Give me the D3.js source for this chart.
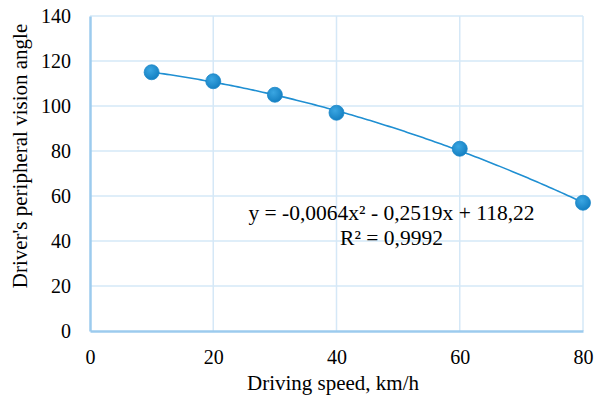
<!DOCTYPE html>
<html><head><meta charset="utf-8">
<script src="https://cdn.jsdelivr.net/npm/d3@7"></script>
<style>body{margin:0;background:#fff}svg{display:block}text{font-family:"Liberation Serif","Times New Roman",serif;fill:#000}</style>
</head><body><svg id="c" width="603" height="399"></svg>
<script>
const speeds = [10, 20, 30, 40, 60, 80];
const angles = [115, 111, 105, 97, 81, 57];
const xTicks = [0, 20, 40, 60, 80];
const yTicks = [0, 20, 40, 60, 80, 100, 120, 140];
const trendCoef = [-0.0064, -0.2519, 118.22]; // a, b, c from the displayed equation
const eqLines = ["y = -0,0064x² - 0,2519x + 118,22", "R² = 0,9992"];

const svg = d3.select("#c");
const m = {l: 90, r: 583, t: 16, b: 331};
const x = d3.scaleLinear().domain([0, 80]).range([m.l, m.r]);
const y = d3.scaleLinear().domain([0, 140]).range([m.b, m.t]);
const serif = '"Liberation Serif","Times New Roman",serif';

const defs = svg.append("defs");
const g = defs.append("radialGradient").attr("id","mk").attr("cx","40%").attr("cy","35%").attr("r","65%");
g.append("stop").attr("offset","0%").attr("stop-color","#3aa6e2");
g.append("stop").attr("offset","100%").attr("stop-color","#1580c2");

// grid
svg.append("g").selectAll("line").data(yTicks.filter(d=>d>0)).join("line")
  .attr("x1", m.l).attr("x2", m.r).attr("y1", d=>y(d)).attr("y2", d=>y(d))
  .attr("stroke", "#d5e8f7").attr("stroke-width", 1.5);
svg.append("g").selectAll("line").data(xTicks.filter(d=>d>0)).join("line")
  .attr("y1", m.t).attr("y2", m.b).attr("x1", d=>x(d)).attr("x2", d=>x(d))
  .attr("stroke", "#d5e8f7").attr("stroke-width", 1.5);

// axes
const xa = svg.append("g").attr("transform", `translate(0,${m.b})`)
  .call(d3.axisBottom(x).tickValues(xTicks).tickSize(0).tickPadding(19));
const ya = svg.append("g").attr("transform", `translate(${m.l},0)`)
  .call(d3.axisLeft(y).tickValues(yTicks).tickSize(0).tickPadding(19));
[xa, ya].forEach(a => {
  a.attr("font-family", serif).attr("font-size", 20);
  a.select(".domain").attr("stroke", "#9ccbee").attr("stroke-width", 2.5);
  a.selectAll("text").style("font-family", serif).style("font-size", "20px").attr("fill", "#000");
});
xa.selectAll("text").attr("dy", "0.71em");
ya.selectAll("text").attr("dy", "0.34em");

// trendline
const xs = d3.range(speeds[0], speeds[speeds.length-1] + 0.01, 0.5);
const tl = d3.line().x(d=>x(d)).y(d=>y(trendCoef[0]*d*d + trendCoef[1]*d + trendCoef[2]));
svg.append("path").datum(xs).attr("d", tl).attr("fill","none").attr("stroke","#1f8fd2").attr("stroke-width",1.6);

// points
svg.append("g").selectAll("circle").data(speeds).join("circle")
  .attr("cx", (d)=>x(d)).attr("cy", (d,i)=>y(angles[i])).attr("r", 7.5)
  .attr("fill", "url(#mk)").attr("stroke", "#1a86c8").attr("stroke-width", 0.8);

// equation
svg.append("text").attr("x", 391.5).attr("y", 220).attr("text-anchor","middle").style("font-size","21.5px").text(eqLines[0]);
svg.append("text").attr("x", 391.5).attr("y", 245).attr("text-anchor","middle").style("font-size","21.5px").text(eqLines[1]);

// titles
svg.append("text").attr("x", 333).attr("y", 390).attr("text-anchor","middle").style("font-size","21px").text("Driving speed, km/h");
svg.append("text").attr("transform", `translate(27,156) rotate(-90)`).attr("text-anchor","middle").style("font-size","21px").text("Driver's peripheral vision angle");
</script></body></html>
